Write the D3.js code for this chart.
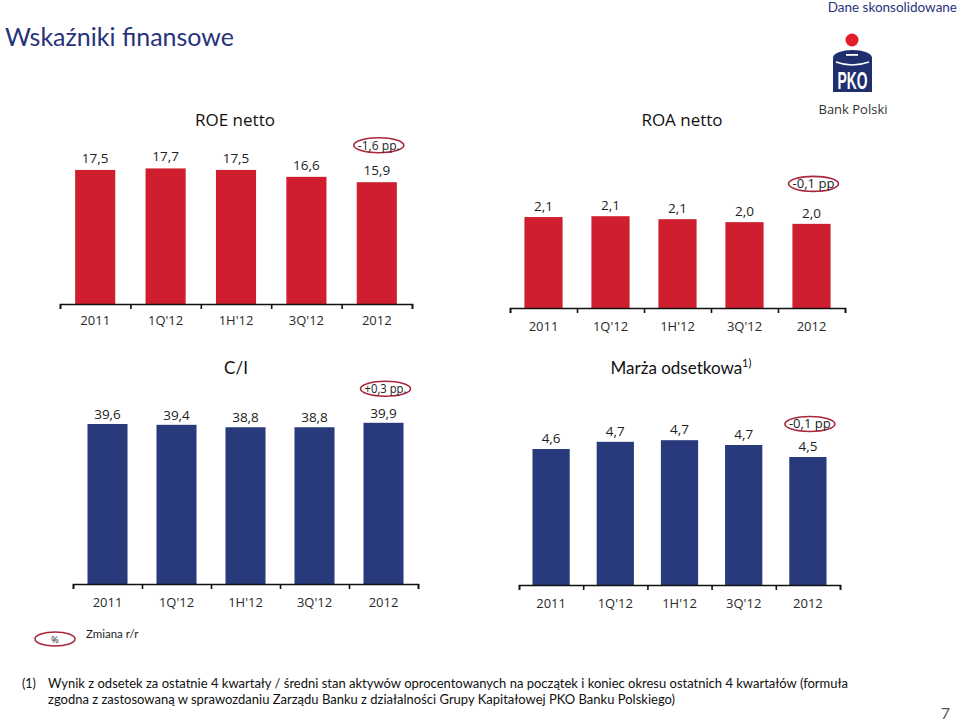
<!DOCTYPE html>
<html><head><meta charset="utf-8">
<script src="https://cdn.jsdelivr.net/npm/d3@7"></script>
<style>body{margin:0;background:#fff}svg{display:block}</style>
</head><body>
<svg id="c" width="960" height="725"></svg>
<script>
const categories = ["2011", "1Q'12", "1H'12", "3Q'12", "2012"];
const roeValues = [17.5, 17.7, 17.5, 16.6, 15.9];
const roeLabels = ["17,5", "17,7", "17,5", "16,6", "15,9"];
const roaValues = [2.14, 2.16, 2.09, 2.02, 1.98];
const roaLabels = ["2,1", "2,1", "2,1", "2,0", "2,0"];
const ciValues = [39.6, 39.4, 38.8, 38.8, 39.9];
const ciLabels = ["39,6", "39,4", "38,8", "38,8", "39,9"];
const nimValues = [4.6, 4.69, 4.71, 4.65, 4.5];
const nimLabels = ["4,6", "4,7", "4,7", "4,7", "4,5"];
const changes = ["-1,6 pp.", "-0,1 pp", "+0,3 pp.", "-0,1 pp"];

const RED = "#cf1f2f", NAVY = "#283a7c", OVAL = "#a8283a";
const FONT = "'Open Sans', 'Liberation Sans', sans-serif";
const svg = d3.select("#c");

function panel(o) {
  const g = svg.append("g");
  const x = d3.scaleBand().domain(categories).range([o.x0, o.x1]).paddingInner(o.pad).paddingOuter(o.pad / 2);
  const y = d3.scaleLinear().domain(o.domain).range([o.base, o.base - o.h]);
  g.selectAll("rect").data(o.values).enter().append("rect")
    .attr("x", (d, i) => x(categories[i])).attr("width", x.bandwidth())
    .attr("y", d => y(d)).attr("height", d => o.base - y(d)).attr("fill", o.color);
  const xi = d3.scaleLinear().domain([0, categories.length]).range([o.x0, o.x1]);
  const ax = g.append("g").attr("transform", `translate(0,${o.base})`)
    .call(d3.axisBottom(xi).tickValues(d3.range(0, categories.length + 1)).tickFormat("").tickSize(5).tickSizeOuter(5));
  ax.select(".domain").attr("stroke", "#111").attr("stroke-width", 1.6);
  ax.selectAll(".tick line").attr("stroke", "#111").attr("stroke-width", 1.6);
  const cl = g.append("g").attr("transform", `translate(0,${o.base})`)
    .call(d3.axisBottom(x).tickSize(0).tickPadding(o.labelPad));
  cl.select(".domain").remove();
  cl.selectAll("text").attr("font-family", FONT).attr("font-size", 13).attr("fill", "#2a2a2a");
  g.selectAll("text.v").data(o.labels).enter().append("text").attr("class", "v")
    .attr("x", (d, i) => x(categories[i]) + x.bandwidth() / 2)
    .attr("y", (d, i) => y(o.values[i]) - o.vgap)
    .attr("text-anchor", "middle").attr("font-family", FONT).attr("font-size", 13.5).attr("fill", "#222").text(d => d);
  const lx = x(categories[4]) + x.bandwidth() / 2 + 2;
  const ly = y(o.values[4]) - o.vgap - o.oy;
  g.append("ellipse").attr("cx", lx).attr("cy", ly).attr("rx", 25).attr("ry", 7.5)
    .attr("fill", "none").attr("stroke", OVAL).attr("stroke-width", 1.6);
  g.append("text").attr("x", lx).attr("y", ly + 4.3).attr("text-anchor", "middle")
    .attr("font-family", FONT).attr("font-size", 12).attr("fill", "#222")
    .attr("textLength", 42).attr("lengthAdjust", "spacingAndGlyphs").text(o.change);
  const t = g.append("text").attr("x", o.tx).attr("y", o.ty).attr("text-anchor", "middle")
    .attr("font-family", o.tfont || FONT).attr("font-size", 17).attr("fill", "#111");
  t.append("tspan").text(o.title);
  if (o.sup) t.append("tspan").attr("font-size", 11).attr("dy", -7).text(o.sup);
}

panel({x0: 60, x1: 412, base: 304, pad: 0.43, domain: [0, 17.7], h: 17.7 * 7.66, values: roeValues, labels: roeLabels,
  color: RED, change: changes[0], oy: 30, vgap: 7, title: "ROE netto", tx: 235, ty: 126, labelPad: 12});
panel({x0: 510, x1: 845, base: 308, pad: 0.43, domain: [0, 2.16], h: 2.16 * 42.5, values: roaValues, labels: roaLabels,
  color: RED, change: changes[1], oy: 34, vgap: 6, title: "ROA netto", tx: 682, ty: 126, labelPad: 14});
panel({x0: 73, x1: 418, base: 584, pad: 0.42, domain: [0, 39.9], h: 39.9 * 4.04, values: ciValues, labels: ciLabels,
  color: NAVY, change: changes[2], oy: 29, vgap: 5, title: "C/I", tx: 236, ty: 374, labelPad: 14, tfont: "'Lato', sans-serif"});
panel({x0: 519, x1: 840, base: 585, pad: 0.42, domain: [2.9, 4.71], h: (4.71 - 2.9) * 80, values: nimValues, labels: nimLabels,
  color: NAVY, change: changes[3], oy: 27, vgap: 6, title: "Marża odsetkowa", sup: "1)", tx: 681, ty: 374, labelPad: 14, tfont: "'Lato', sans-serif"});

// header
svg.append("text").attr("x", 5).attr("y", 46).attr("font-family", "'Lato', sans-serif").attr("font-size", 25)
  .attr("fill", "#27337a").text("Wskaźniki finansowe");
svg.append("text").attr("x", 957).attr("y", 12).attr("text-anchor", "end").attr("font-family", "'Lato', sans-serif")
  .attr("font-size", 13.5).attr("fill", "#27337a").text("Dane skonsolidowane");

// logo
const lg = svg.append("g");
lg.append("circle").attr("cx", 852).attr("cy", 40).attr("r", 6.5).attr("fill", "#e21d2b");
lg.append("path").attr("d", "M833,58 A19.5,8 0 0 1 872,58 L872,92 L833,92 Z").attr("fill", "#1f2f6e");
lg.append("rect").attr("x", 846).attr("y", 54).attr("width", 12).attr("height", 1.8).attr("fill", "#fff");
lg.append("path").attr("d", "M836,62 Q852,68 869,62").attr("fill", "none").attr("stroke", "#fff").attr("stroke-width", 1.4);
lg.append("text").attr("x", 852.5).attr("y", 89).attr("text-anchor", "middle").attr("font-family", "'Liberation Sans', sans-serif")
  .attr("font-weight", "bold").attr("font-size", 24).attr("fill", "#fff")
  .attr("textLength", 30).attr("lengthAdjust", "spacingAndGlyphs").text("PKO");
svg.append("text").attr("x", 853).attr("y", 114).attr("text-anchor", "middle").attr("font-family", FONT)
  .attr("font-size", 13).attr("fill", "#333").text("Bank Polski");

// legend
svg.append("ellipse").attr("cx", 55).attr("cy", 639).attr("rx", 20).attr("ry", 7)
  .attr("fill", "none").attr("stroke", OVAL).attr("stroke-width", 1.5);
svg.append("text").attr("x", 55).attr("y", 643).attr("text-anchor", "middle").attr("font-family", FONT)
  .attr("font-size", 9).attr("fill", "#222").text("%");
svg.append("text").attr("x", 86).attr("y", 638).attr("font-family", "'Lato', sans-serif")
  .attr("font-size", 11.5).attr("fill", "#222").text("Zmiana r/r");

// footnote
const fn = "'Lato', sans-serif";
svg.append("text").attr("x", 22).attr("y", 688).attr("font-family", fn).attr("font-size", 12.5).attr("fill", "#111").text("(1)");
svg.append("text").attr("x", 48).attr("y", 688).attr("font-family", fn).attr("font-size", 12.5).attr("fill", "#111")
  .attr("textLength", 800).attr("lengthAdjust", "spacingAndGlyphs")
  .text("Wynik z odsetek za ostatnie 4 kwartały / średni stan aktywów oprocentowanych na początek i koniec okresu ostatnich 4 kwartałów (formuła");
svg.append("text").attr("x", 48).attr("y", 704).attr("font-family", fn).attr("font-size", 12.5).attr("fill", "#111")
  .attr("textLength", 627).attr("lengthAdjust", "spacingAndGlyphs")
  .text("zgodna z zastosowaną w sprawozdaniu Zarządu Banku z działalności Grupy Kapitałowej  PKO Banku Polskiego)");
svg.append("text").attr("x", 950).attr("y", 719).attr("text-anchor", "end").attr("font-family", fn)
  .attr("font-size", 16).attr("fill", "#555").text("7");
</script>
</body></html>
